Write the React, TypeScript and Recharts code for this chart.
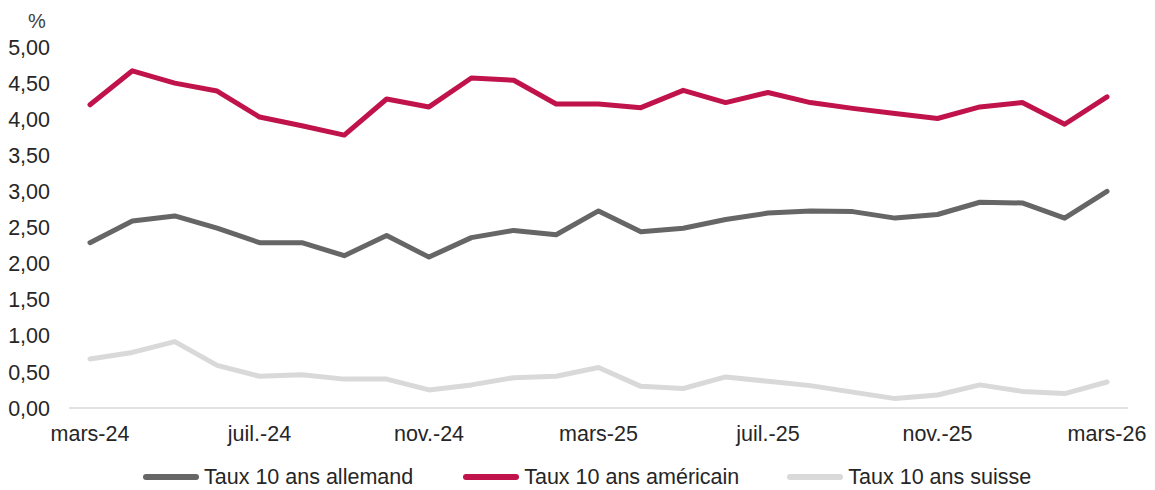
import { LineChart, Line, XAxis, YAxis, Legend } from "recharts";

const months = [
  "mars-24", "avr.-24", "mai-24", "juin-24", "juil.-24", "août-24", "sept.-24",
  "oct.-24", "nov.-24", "déc.-24", "janv.-25", "févr.-25", "mars-25", "avr.-25",
  "mai-25", "juin-25", "juil.-25", "août-25", "sept.-25", "oct.-25", "nov.-25",
  "déc.-25", "janv.-26", "févr.-26", "mars-26",
];

const allemand = [
  2.29, 2.59, 2.66, 2.49, 2.29, 2.29, 2.11, 2.39, 2.09, 2.36, 2.46, 2.4, 2.73,
  2.44, 2.49, 2.61, 2.7, 2.73, 2.72, 2.63, 2.68, 2.85, 2.84, 2.63, 3.0,
];

const americain = [
  4.2, 4.67, 4.5, 4.39, 4.03, 3.91, 3.78, 4.28, 4.17, 4.57, 4.54, 4.21, 4.21,
  4.16, 4.4, 4.23, 4.37, 4.23, 4.15, 4.08, 4.01, 4.17, 4.23, 3.93, 4.31,
];

const suisse = [
  0.68, 0.77, 0.92, 0.59, 0.44, 0.46, 0.4, 0.4, 0.25, 0.32, 0.42, 0.44, 0.56,
  0.3, 0.27, 0.43, 0.37, 0.31, 0.22, 0.13, 0.18, 0.32, 0.23, 0.2, 0.36,
];

const yTicks = [0, 0.5, 1, 1.5, 2, 2.5, 3, 3.5, 4, 4.5, 5];

const series = [
  { key: "allemand", name: "Taux 10 ans allemand", color: "#666666" },
  { key: "americain", name: "Taux 10 ans américain", color: "#C0134B" },
  { key: "suisse", name: "Taux 10 ans suisse", color: "#D9D9D9" },
];

const data = months.map((m, i) => ({
  month: m,
  allemand: allemand[i],
  americain: americain[i],
  suisse: suisse[i],
}));

const font = "'Liberation Sans', Arial, sans-serif";
const fontSize = 21.5;
const textColor = "#262626";

function ChartLegend() {
  return (
    <div
      style={{
        display: "flex",
        paddingLeft: 143,
        paddingTop: 17,
        fontFamily: font,
        fontSize,
        color: textColor,
        lineHeight: "24px",
        whiteSpace: "nowrap",
      }}
    >
      {series.map((s, i) => (
        <div
          key={s.key}
          style={{
            display: "flex",
            alignItems: "center",
            marginRight: i === 0 ? 50 : 48,
          }}
        >
          <div
            style={{
              width: 56,
              height: 6,
              borderRadius: 3,
              background: s.color,
              marginRight: 5,
            }}
          />
          <span>{s.name}</span>
        </div>
      ))}
    </div>
  );
}

export default function App() {
  return (
    <div style={{ position: "absolute", left: 0, top: 0, background: "#fff" }}>
      <LineChart
        width={1155}
        height={490}
        data={data}
        margin={{ top: 47, right: 27, left: 0, bottom: 0 }}
      >
        <XAxis
          dataKey="month"
          interval={3}
          padding={{ left: 21, right: 21 }}
          tickLine={false}
          tickSize={0}
          tickMargin={18}
          height={40}
          axisLine={{ stroke: "#D9D9D9", strokeWidth: 1.5 }}
          tick={{ fill: textColor, fontSize, fontFamily: font }}
        />
        <YAxis
          domain={[0, 5]}
          ticks={yTicks}
          interval={0}
          width={69}
          axisLine={false}
          tickLine={false}
          tickSize={0}
          tickMargin={19}
          tickFormatter={(v: number) => v.toFixed(2).replace(".", ",")}
          tick={{ fill: textColor, fontSize, fontFamily: font }}
          label={{
            content: () => (
              <text
                x={37}
                y={28}
                textAnchor="middle"
                fill="#404040"
                fontSize={20}
                fontFamily={font}
              >
                %
              </text>
            ),
          }}
        />
        <Legend
          verticalAlign="bottom"
          height={42}
          wrapperStyle={{ left: 0, width: 1155 }}
          content={() => <ChartLegend />}
        />
        {series.map((s) => (
          <Line
            key={s.key}
            type="linear"
            dataKey={s.key}
            name={s.name}
            stroke={s.color}
            strokeWidth={5}
            strokeLinecap="round"
            strokeLinejoin="round"
            dot={false}
            activeDot={false}
            isAnimationActive={false}
          />
        ))}
      </LineChart>
    </div>
  );
}
